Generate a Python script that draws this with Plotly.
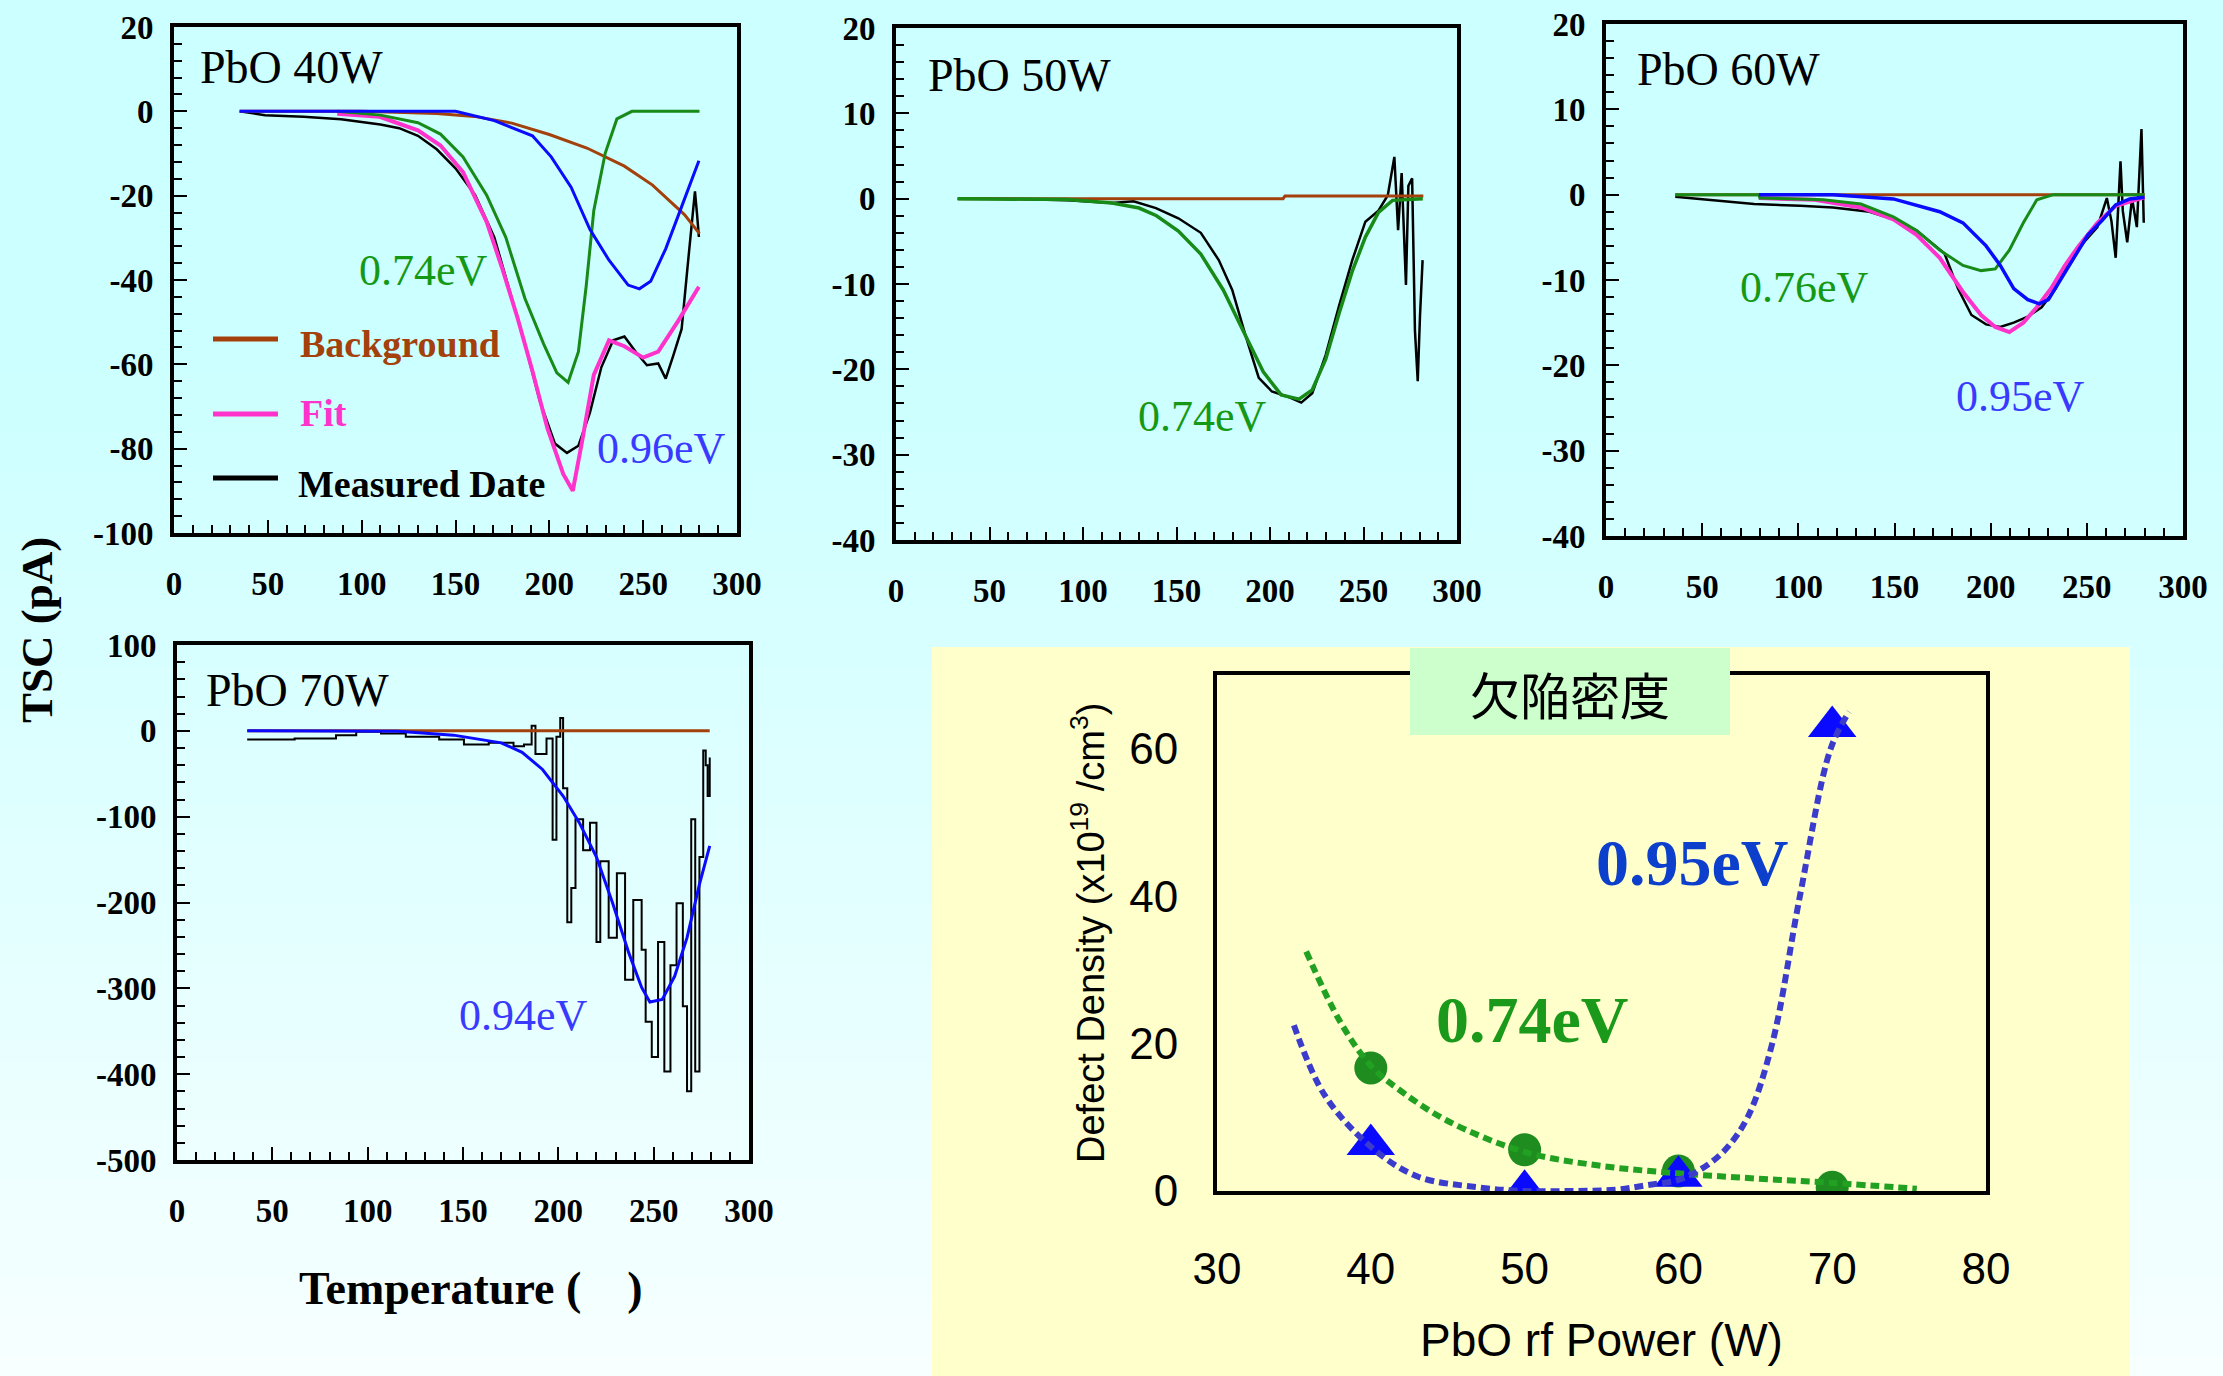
import plotly.graph_objects as go

W, H = 2223, 1376

# ---------------- data ----------------
# Panel PbO 40W
bg40_t = [35, 100, 140, 160, 180, 200, 220, 240, 255, 265, 272, 280]
bg40_v = [0, 0, -0.5, -1.2, -2.8, -5.5, -8.7, -13, -17.5, -21.5, -24.5, -29]
g40_t = [87, 110, 130, 142, 154, 166.6, 176.8, 187, 197, 204, 210, 215.5, 219.6, 223.7, 229.8, 236, 244, 280]
g40_v = [0, -0.9, -2.7, -5.4, -10.8, -19.9, -29.9, -44.4, -55.2, -62, -64.3, -57, -41.6, -23.5, -9.9, -1.8, 0, 0]
b40_t = [35, 150, 170.7, 191, 201, 211.6, 221.6, 231.8, 242, 248, 254, 262, 270.5, 279.7]
b40_v = [0, 0, -2.2, -5.8, -10.8, -18, -28, -35.3, -41.2, -42.1, -40.3, -32.6, -22.6, -11.7]
f40_t = [87, 109.6, 130, 142, 154, 166.6, 174.8, 183, 191, 199, 207.4, 212.5, 217.6, 223.7, 231.8, 240, 250, 258, 268.5, 279.7]
f40_v = [-0.6, -1.3, -4.5, -8.1, -14.4, -26.2, -37.1, -48.9, -61.6, -75.2, -86, -90, -77.9, -62.5, -54.3, -55.7, -58.4, -57, -49.8, -41.6]
m40_t = [35, 48.5, 69, 89, 110, 120, 130, 140, 150, 160.5, 170.7, 179, 187, 195, 203, 209.4, 215.5, 221.6, 227.7, 234,
         240, 246, 252, 258, 262, 266, 270.5, 273.6, 275.6, 277.6, 278.7, 279.7]
m40_v = [0, -0.9, -1.3, -1.9, -3.1, -4.0, -5.8, -9.0, -13.5, -19.9, -29.9, -42.6, -55.2, -68.8, -78.8, -81, -79.3, -71.5, -60.7, -54.3,
         -53.4, -57, -60.2, -59.8, -63.4, -58, -51.6, -37.1, -28, -19, -24.4, -29.8]

# Panel PbO 50W
bg50_t = [33, 207, 208, 282]
bg50_v = [0, 0, 0.3, 0.3]
g50_t = [33, 91.7, 115.5, 130, 139.3, 151, 163, 175, 187, 196.4, 206, 215.5, 222.6, 229.8, 237, 244, 251, 258, 265.5, 281.7]
g50_v = [0, -0.1, -0.5, -1.1, -2.0, -3.8, -6.5, -10.7, -16.1, -20.3, -23, -23.5, -22.4, -18.8, -13.4, -8.5, -4.5, -1.6, -0.2, 0]
m50_t = [33, 56, 91.7, 115.5, 127, 139, 151, 163, 172.6, 179.8, 187, 194, 201, 210.7, 216.7, 222.6, 229.8, 237, 244, 251,
         258, 263, 266.5, 268.5, 270.4, 272.7, 274, 276, 277.5, 279, 280.2, 281.6]
m50_v = [0, 0, -0.2, -0.5, -0.3, -1.1, -2.3, -4, -7.2, -10.7, -16.1, -21, -22.6, -23.3, -23.9, -22.8, -18.3, -12.5, -7.2, -2.7,
         -1.4, 0.4, 4.9, -3.7, 3.0, -10.1, 1.5, 2.4, -15.4, -21.4, -13.8, -7.2]

# Panel PbO 60W
bg60_t = [36, 280]
bg60_v = [0, 0]
g60_t = [36, 79.5, 80, 113, 132.5, 149.4, 161.5, 173.5, 185.6, 195, 202.4, 209.7, 217, 224, 232.6, 280]
g60_v = [0, 0, -0.4, -0.6, -1.1, -2.6, -4.2, -6.5, -8.3, -8.9, -8.7, -6.5, -3.3, -0.6, 0, 0]
b60_t = [79.5, 118, 149.4, 173.5, 185.6, 197.6, 205, 212, 219.3, 225.3, 230, 236, 243.4, 250.6, 258, 265, 272.3, 280]
b60_v = [0, 0, -0.5, -2.0, -3.3, -6.0, -8.3, -11, -12.3, -12.8, -12.3, -10.1, -7.4, -4.7, -3.0, -1.2, -0.5, -0.3]
f60_t = [79.5, 108.5, 132.5, 149.4, 161.5, 173.5, 185.6, 195, 202.4, 209.7, 217, 224, 231.4, 238.6, 245.8, 255.5, 265, 280]
f60_v = [-0.4, -0.6, -1.5, -2.9, -4.7, -7.4, -11.4, -14.1, -15.5, -16.1, -15, -13.2, -11, -8.3, -6.0, -3.3, -1.3, -0.3]
m60_t = [36, 53, 77, 101, 118, 137, 149.4, 161.5, 171, 176, 183, 190, 197.6, 205, 212, 219.3, 226.5, 233.8, 241, 248.4,
         255.5, 260.4, 262.8, 265, 267.5, 268.7, 271, 273.5, 276, 278.4, 279.6]
m60_v = [-0.25, -0.6, -1.1, -1.3, -1.5, -2.0, -2.9, -4.2, -6.0, -6.9, -11, -14.1, -15.2, -15.5, -15, -14.3, -13.2, -11, -7.8, -5.6,
         -3.8, -0.4, -3.1, -7.4, 3.9, -1.9, -5.6, -0.4, -3.8, 7.7, -3.3]

# Panel PbO 70W
bg70_t = [37, 279.4]
bg70_v = [0, 0]
b70_t = [36.8, 115.9, 145, 170, 181, 191.7, 202.5, 211, 220, 228.5, 237, 243.7, 248, 254.5, 261, 267.5, 274, 279.4]
b70_v = [0, -0.5, -5, -14, -25, -45, -76, -107, -147, -201, -259, -299, -316, -313, -286, -241, -179, -134]
m70_t = [36.8, 61.7, 83.4, 94, 107, 120, 137.5, 150.5, 163.5, 176.5, 182, 186, 188, 193.8, 197, 199, 201, 202.5, 204.7, 206.8,
         209, 213, 216.6, 220, 222, 226.4, 230.7, 235, 239.3, 243.7, 245.8, 249, 252.3, 255.6, 258.8, 262, 265.3, 267.5, 269.7,
         271.8, 274, 276, 277.3, 278.3, 279.4]
m70_v = [-10, -9, -5, -1, -3, -7, -10, -16, -14, -18, -16, 6, -27, -9, -127, -7, 15, -67, -223, -183,
         -103, -139, -107, -246, -152, -241, -166, -290, -197, -255, -339, -380, -246, -397, -273, -201, -321, -420, -103,
         -397, -147, -23, -40, -76, -31]

# Defect density panel
power_pts = [40, 50, 60, 70]
dens_095 = [6.3, 0.1, 2.0, 63]
dens_074 = [16.7, 5.6, 2.7, 0.5]
fit095_p = [35, 37, 40, 43, 47, 50, 53, 56, 58, 60, 61.5, 63, 64.5, 66.1, 67.9, 69.9, 71.1]
fit095_d = [22.5, 13, 6, 2, 0.5, 0, 0, 0.2, 0.8, 1.5, 3, 5.5, 10, 20, 40, 60, 65]
fit074_p = [35.8, 38, 40, 42, 45, 50, 55, 60, 65, 70, 75.5]
fit074_d = [32.5, 23, 17, 13.5, 9.5, 5.3, 3.4, 2.4, 1.7, 1.1, 0.3]

# tick labels
t_ticks = [0, 50, 100, 150, 200, 250, 300]
t_text = ["0", "50", "100", "150", "200", "250", "300"]
y40_ticks = [-100, -80, -60, -40, -20, 0, 20]
y40_text = ["-100", "-80", "-60", "-40", "-20", "0", "20"]
y50_ticks = [-40, -30, -20, -10, 0, 10, 20]
y50_text = ["-40", "-30", "-20", "-10", "0", "10", "20"]
y70_ticks = [-500, -400, -300, -200, -100, 0, 100]
y70_text = ["-500", "-400", "-300", "-200", "-100", "0", "100"]
p_ticks = [30, 40, 50, 60, 70, 80]
d_ticks = [0, 20, 40, 60]

# ---------------- colours ----------------
C_BG = "#a3400c"
C_GREEN = "#178a17"
C_BLUE = "#0a0aff"
C_FIT = "#ff33cc"
C_MEAS = "#000000"
SERIF = "Liberation Serif, Times New Roman, serif"
SANS = "Liberation Sans, Arial, sans-serif"


def px(x):
    return x / W


def py(y):
    return 1 - y / H


fig = go.Figure()


def add(xs, ys, color, width, ax, shape="linear"):
    fig.add_trace(go.Scatter(x=xs, y=ys, mode="lines",
                             line=dict(color=color, width=width, shape=shape),
                             xaxis="x" + ax, yaxis="y" + ax,
                             showlegend=False, hoverinfo="skip"))


# 40W
add(m40_t, m40_v, C_MEAS, 2.5, "")
add(f40_t, f40_v, C_FIT, 4, "")
add(bg40_t, bg40_v, C_BG, 3, "")
add(g40_t, g40_v, C_GREEN, 3, "")
add(b40_t, b40_v, C_BLUE, 3, "")
# 50W
add(m50_t, m50_v, C_MEAS, 2.5, "2")
add(bg50_t, bg50_v, C_BG, 3, "2")
add(g50_t, g50_v, C_GREEN, 3.5, "2")
# 60W
add(m60_t, m60_v, C_MEAS, 2.5, "3")
add(f60_t, f60_v, C_FIT, 4, "3")
add(bg60_t, bg60_v, C_BG, 3, "3")
add(g60_t, g60_v, C_GREEN, 3, "3")
add(b60_t, b60_v, C_BLUE, 3.5, "3")
# 70W
add(m70_t, m70_v, C_MEAS, 2, "4", "hv")
add(bg70_t, bg70_v, C_BG, 3, "4")
add(b70_t, b70_v, C_BLUE, 3, "4")

# defect density
fig.add_trace(go.Scatter(x=power_pts, y=dens_074, mode="markers",
                         marker=dict(symbol="circle", size=33, color="#1e8c1e"),
                         xaxis="x5", yaxis="y5", showlegend=False, hoverinfo="skip"))
fig.add_trace(go.Scatter(x=power_pts, y=dens_095, mode="markers",
                         marker=dict(symbol="triangle-up", size=42, color="#0a0aff"),
                         xaxis="x5", yaxis="y5", showlegend=False, hoverinfo="skip"))
fig.add_trace(go.Scatter(x=fit074_p, y=fit074_d, mode="lines",
                         line=dict(color="#22a022", width=6, dash="9px,5px", shape="spline"),
                         xaxis="x5", yaxis="y5", showlegend=False, hoverinfo="skip"))
fig.add_trace(go.Scatter(x=fit095_p, y=fit095_d, mode="lines",
                         line=dict(color="#3b3bcc", width=6, dash="9px,5px", shape="spline"),
                         xaxis="x5", yaxis="y5", showlegend=False, hoverinfo="skip"))

tickfont = dict(family=SERIF, size=33, color="black", weight="bold")


def x_axis(x0, x1, anchor):
    return dict(domain=[px(x0), px(x1)], range=[0, 300], anchor=anchor,
                tickmode="array", tickvals=t_ticks, ticktext=t_text,
                ticks="inside", ticklen=13, tickwidth=2, tickcolor="black",
                minor=dict(tickmode="linear", tick0=0, dtick=10, ticks="inside", ticklen=8,
                           tickwidth=2, tickcolor="black", showgrid=False),
                showline=True, linewidth=4, linecolor="black", mirror=True,
                showgrid=False, zeroline=False, ticklabelstandoff=18, tickfont=tickfont)


def y_axis(y0, y1, anchor, rng, vals, text, minor):
    return dict(domain=[py(y1), py(y0)], range=rng, anchor=anchor,
                tickmode="array", tickvals=vals, ticktext=text,
                ticks="inside", ticklen=13, tickwidth=2, tickcolor="black",
                minor=dict(tickmode="linear", tick0=0, dtick=minor, ticks="inside", ticklen=8,
                           tickwidth=2, tickcolor="black", showgrid=False),
                showline=True, linewidth=4, linecolor="black", mirror=True,
                showgrid=False, zeroline=False, ticklabelstandoff=10, tickfont=tickfont)


layout = dict(
    width=W, height=H, margin=dict(l=0, r=0, t=0, b=0, pad=0, autoexpand=False),
    paper_bgcolor="#ccffff", plot_bgcolor="rgba(0,0,0,0)",
    font=dict(family=SERIF, color="black"),
    xaxis=x_axis(174, 737, "y"),
    yaxis=y_axis(27, 533, "x", [-100, 20], y40_ticks, y40_text, 4),
    xaxis2=x_axis(896, 1457, "y2"),
    yaxis2=y_axis(28, 540, "x2", [-40, 20], y50_ticks, y50_text, 2),
    xaxis3=x_axis(1606, 2183, "y3"),
    yaxis3=y_axis(24, 536, "x3", [-40, 20], y50_ticks, y50_text, 2),
    xaxis4=x_axis(177, 749, "y4"),
    yaxis4=y_axis(645, 1160, "x4", [-500, 100], y70_ticks, y70_text, 20),
    xaxis5=dict(domain=[px(1217), px(1986)], range=[30, 80], anchor="y5",
                tickmode="array", tickvals=p_ticks, ticks="",
                showline=True, linewidth=4, linecolor="black", mirror=True,
                showgrid=False, zeroline=False, ticklabelstandoff=36,
                tickfont=dict(family=SANS, size=44, color="black")),
    yaxis5=dict(domain=[py(1191), py(675)], range=[0, 70], anchor="x5",
                tickmode="array", tickvals=d_ticks, ticks="",
                showline=True, linewidth=4, linecolor="black", mirror=True,
                showgrid=False, zeroline=False, ticklabelstandoff=26,
                tickfont=dict(family=SANS, size=44, color="black")),
)
fig.update_layout(**layout)

shapes = []
# background gradient (top cyan -> nearly white at the bottom)
n = 70
for i in range(n):
    y0 = H * i / n
    y1 = H * (i + 1) / n + 1
    f = max(0.0, (y0 - 350) / (H - 350))
    r = int(204 + (248 - 204) * f)
    shapes.append(dict(type="rect", xref="paper", yref="paper", x0=0, x1=1, y0=py(y1), y1=py(y0),
                       fillcolor=f"rgb({r},255,255)", line=dict(width=0), layer="below"))
# yellow panel and title box
shapes.append(dict(type="rect", xref="paper", yref="paper", x0=px(932), x1=px(2130), y0=py(1376), y1=py(647),
                   fillcolor="#ffffcc", line=dict(width=0), layer="below"))
shapes.append(dict(type="rect", xref="paper", yref="paper", x0=px(1410), x1=px(1730), y0=py(735), y1=py(648),
                   fillcolor="#ccffcc", line=dict(width=0), layer="above"))
# legend segments in 40W panel
for yy, col in [(339, C_BG), (414, C_FIT), (478, C_MEAS)]:
    shapes.append(dict(type="line", xref="paper", yref="paper", x0=px(213), x1=px(278), y0=py(yy), y1=py(yy),
                       line=dict(color=col, width=5)))
fig.update_layout(shapes=shapes)

ann = []


def label(x, y, text, size, color="black", xanchor="center", bold=False, family=SERIF, angle=0):
    ann.append(dict(x=px(x), y=py(y), xref="paper", yref="paper", text=text, showarrow=False,
                    xanchor=xanchor, yanchor="middle", textangle=angle,
                    font=dict(family=family, size=size, color=color, weight="bold" if bold else "normal")))


label(198, 67, "PbO 40W", 46, xanchor="left")
label(926, 75, "PbO 50W", 46, xanchor="left")
label(1635, 70, "PbO 60W", 46, xanchor="left")
label(204, 691, "PbO 70W", 46, xanchor="left")

label(423, 270, "0.74eV", 44, "#159915")
label(661, 448, "0.96eV", 44, "#3a3aff")
label(1202, 416, "0.74eV", 44, "#159915")
label(1804, 287, "0.76eV", 44, "#159915")
label(2020, 396, "0.95eV", 44, "#3a3aff")
label(523, 1015, "0.94eV", 44, "#3a3aff")

label(298, 344, "Background", 38, C_BG, xanchor="left", bold=True)
label(298, 413, "Fit", 38, C_FIT, xanchor="left", bold=True)
label(296, 484, "Measured Date", 38, "black", xanchor="left", bold=True)

label(471, 1288, "Temperature (\u00a0\u00a0\u00a0\u00a0)", 46, bold=True)
label(37, 630, "TSC (pA)", 45, bold=True, angle=-90)

label(1570, 693, "欠陥密度", 50, family="Noto Sans CJK JP, sans-serif")
label(1692, 862, "0.95eV", 66, "#0b3fcc", bold=True)
label(1532, 1019, "0.74eV", 66, "#1a991a", bold=True)
label(1088, 933, "Defect Density (x10<sup>19</sup> /cm<sup>3</sup>)", 38, family=SANS, angle=-90)
label(1601, 1340, "PbO rf Power (W)", 46, family=SANS)

fig.update_layout(annotations=ann)

fig.write_html("out.html",
               config={"displayModeBar": False},
               post_script="document.body.style.margin='0';document.body.style.padding='0';"
                           "document.body.style.overflow='hidden';")
